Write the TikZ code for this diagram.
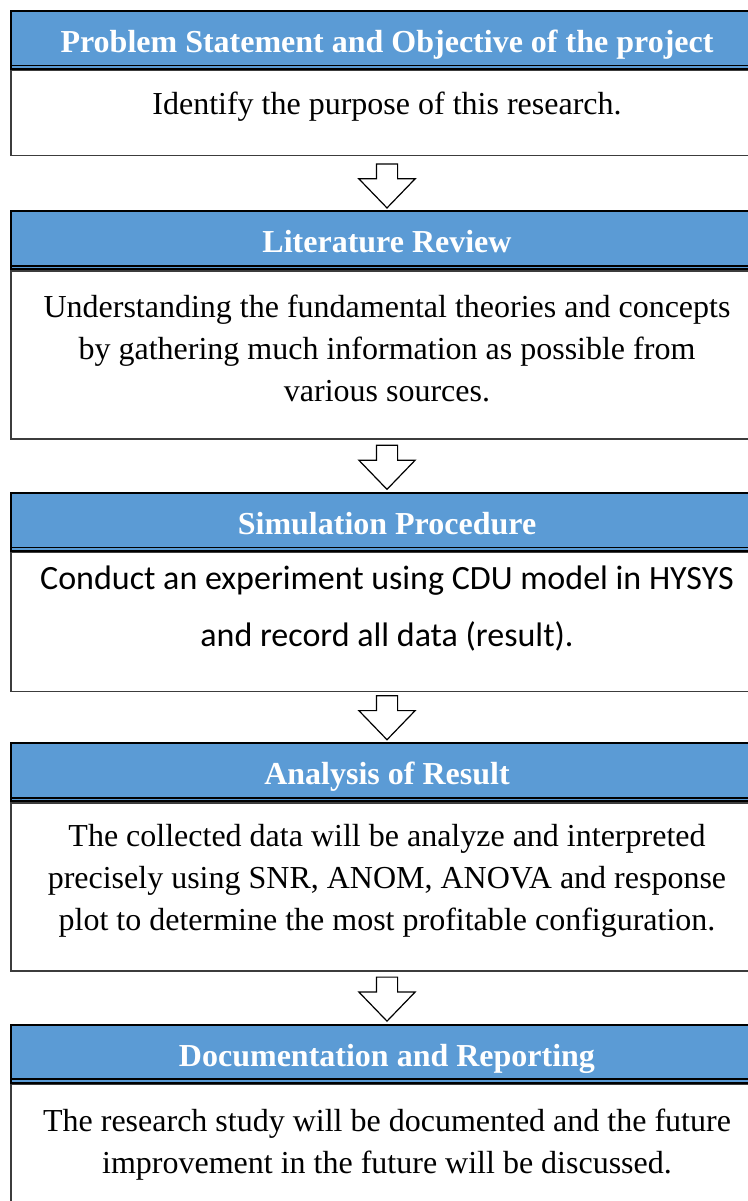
\documentclass[tikz,border=0pt]{standalone}
\usepackage{fontspec}
\setmainfont{Liberation Serif}
\newfontfamily\calibrifont{Carlito}
\usetikzlibrary{positioning,shapes.arrows,calc}
\definecolor{hdrblue}{RGB}{91,155,213}
\definecolor{rulegray}{RGB}{60,60,60}

\begin{document}
\begin{tikzpicture}[node distance=27pt,
    head/.style={rectangle, draw=black, line width=1pt, fill=hdrblue, text=white,
      minimum width=376pt, minimum height=29pt, inner sep=0pt,
      text height=14pt, text depth=1.5pt,
      font=\bfseries\fontsize{16}{19}\selectfont},
    body/.style={rectangle, draw=rulegray, line width=0.7pt,
      minimum width=376pt, inner sep=0pt},
    bodytext/.style={align=center, inner sep=0pt, font=\fontsize{16}{21}\selectfont},
    downarrow/.style={single arrow, draw=black, line width=0.6pt, fill=white,
      shape border rotate=270, minimum height=22pt, inner sep=5pt,
      single arrow head extend=8.75pt, single arrow tip angle=88}]
    \clip (0,0) rectangle (374pt,-600.5pt);

    \node [head] (h1) at (193.5pt,-20pt) {Problem Statement and Objective of the project};
    \node [body, minimum height=42.5pt, below=0pt of h1] (b1) {};
    \node [head, below=27pt of b1]                        (h2) {Literature Review};
    \node [body, minimum height=84pt, below=0pt of h2]   (b2) {};
    \node [head, below=26pt of b2]                        (h3) {Simulation Procedure};
    \node [body, minimum height=69.5pt, below=0pt of h3] (b3) {};
    \node [head, below=25pt of b3]                        (h4) {Analysis of Result};
    \node [body, minimum height=84pt, below=0pt of h4]   (b4) {};
    \node [head, below=26pt of b4]                        (h5) {Documentation and Reporting};
    \node [body, minimum height=90pt, below=0pt of h5]   (b5) {};

    \node [bodytext] (t1) at ([yshift=3.25pt]b1.center) {Identify the purpose of this research.};
    \node [bodytext] (t2) at ([yshift=3.5pt]b2.center)
      {Understanding the fundamental theories and concepts\\
       by gathering much information as possible from\\
       various sources.};
    \node [bodytext, font=\calibrifont\fontsize{17}{28.5}\selectfont] (t3) at ([yshift=6.5pt]b3.center)
      {Conduct an experiment using CDU model in HYSYS\\
       and record all data (result).};
    \node [bodytext] (t4) at ([yshift=3pt]b4.center)
      {The collected data will be analyze and interpreted\\
       precisely using SNR, ANOM, ANOVA and response\\
       plot to determine the most profitable configuration.};
    \node [bodytext, anchor=north] (t5) at ([yshift=-12.5pt]b5.north)
      {The research study will be documented and the future\\
       improvement in the future will be discussed.};

    \foreach \i in {1,...,5}
      \draw [line width=0.8pt] ([yshift=2.2pt]h\i.south west) -- ([yshift=2.2pt]h\i.south east);

    \foreach \i/\j in {1/2,2/3,3/4,4/5}
      \node [downarrow, anchor=tip] (a\i) at ($(h\j.north)+(0,0.8pt)$) {};
\end{tikzpicture}
\end{document}
